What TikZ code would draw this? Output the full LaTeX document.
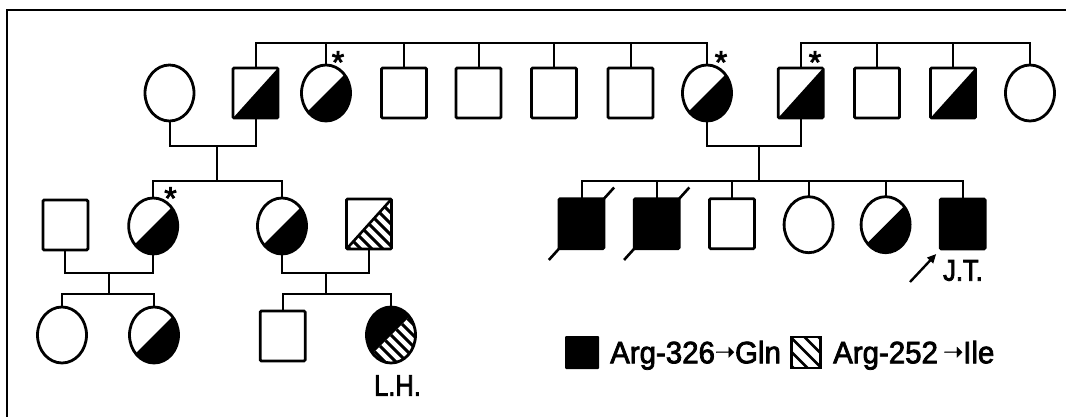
\documentclass[tikz,border=0pt]{standalone}
\usepackage{fontspec}
\setmainfont{Liberation Sans}[FakeBold=2.5]
\newfontfamily\labfont{Liberation Sans}[FakeStretch=0.85,FakeBold=2.5]
\newfontfamily\legfont{Liberation Sans}[FakeStretch=0.95,FakeBold=2.5]
\newfontfamily\arrfont{DejaVu Sans}[FakeBold=1.5]
\usetikzlibrary{shapes.geometric,calc,arrows.meta}
\newcommand{\legarrow}{\raisebox{3.5pt}{\arrfont\fontsize{24}{26}\selectfont ➝}}
\begin{document}
\begin{tikzpicture}[x=1pt,y=-1pt,
  sq/.style={rectangle, draw, line width=2.8pt, minimum width=45pt, minimum height=50pt, inner sep=0pt, outer sep=0pt, rounded corners=1.2pt},
  ci/.style={ellipse, draw, line width=2.8pt, minimum width=49pt, minimum height=56pt, inner sep=0pt, outer sep=0pt},
  full/.style={fill=black},
  halfsq/.style={path picture={\fill (path picture bounding box.south west) -- (path picture bounding box.north east) -- (path picture bounding box.south east) -- cycle;}},
  halfci/.style={path picture={\fill ($(path picture bounding box.center)+(-60,60)$) -- ($(path picture bounding box.center)+(60,-60)$) -- ($(path picture bounding box.center)+(60,60)$) -- cycle;}},
  hatchsq/.style={path picture={
    \begin{scope}
    \clip (path picture bounding box.south west) -- (path picture bounding box.north east) -- (path picture bounding box.south east) -- cycle;
    \foreach \k in {-66,-55,...,66} \draw[line width=3pt] ($(path picture bounding box.center)+(\k-40,-40)$) -- ($(path picture bounding box.center)+(\k+40,40)$);
    \end{scope}
    \draw[line width=2.6pt] (path picture bounding box.south west) -- (path picture bounding box.north east);}},
  hatchci/.style={path picture={
    \fill ($(path picture bounding box.center)+(-60,60)$) -- ($(path picture bounding box.center)+(60,-60)$) -- ($(path picture bounding box.center)+(-60,-60)$) -- cycle;
    \begin{scope}
    \clip ($(path picture bounding box.center)+(-60,60)$) -- ($(path picture bounding box.center)+(60,-60)$) -- ($(path picture bounding box.center)+(60,60)$) -- cycle;
    \foreach \k in {-66,-55,...,66} \draw[line width=3pt] ($(path picture bounding box.center)+(\k-40,-40)$) -- ($(path picture bounding box.center)+(\k+40,40)$);
    \end{scope}}},
  hatchleg/.style={path picture={
    \foreach \k in {-42,-28,...,42} \draw[line width=2.6pt] ($(path picture bounding box.center)+(\k-30,-30)$) -- ($(path picture bounding box.center)+(\k+30,30)$);}},
  conn/.style={line width=2pt},
  slash/.style={line width=2.6pt},
  lab/.style={font=\labfont\fontsize{30}{32}\selectfont, inner sep=0pt},
  legtext/.style={font=\legfont\fontsize{31}{33}\selectfont, inner sep=0pt, anchor=base west},
  ast/.style={font=\fontsize{32}{34}\selectfont, inner sep=0pt, anchor=north},
]
\useasboundingbox (0,0) rectangle (1066,417);
\draw[line width=2.4pt] (7.2,417) -- (7.2,10.2) -- (1066,10.2);

% generation I
\node[ci] (c1) at (169.5,93) {};
\node[sq,halfsq] (s2) at (255.5,93) {};
\node[ci,halfci] (c3) at (326,93) {};
\node[sq] (s4) at (404,93) {};
\node[sq] (s5) at (478.5,93) {};
\node[sq] (s6) at (554,93) {};
\node[sq] (s7) at (630.5,93) {};
\node[ci,halfci] (c8) at (707,93) {};
\node[sq,halfsq] (s9) at (800.7,93) {};
\node[sq] (s10) at (877,93) {};
\node[sq,halfsq] (s11) at (953,93) {};
\node[ci] (c12) at (1030,93) {};

% generation II
\node[sq] (A) at (65.4,225) {};
\node[ci,halfci] (B) at (153.2,226) {};
\node[ci,halfci] (C) at (282,226) {};
\node[sq,hatchsq] (D) at (369,224) {};
\node[sq,full] (R1) at (581.5,223.7) {};
\node[sq,full] (R2) at (656.7,223.7) {};
\node[sq] (R3) at (732,223.7) {};
\node[ci] (R4) at (808.6,224.7) {};
\node[ci,halfci] (R5) at (885.6,224.7) {};
\node[sq,full] (R6) at (962.7,224) {};

% generation III
\node[ci] (E) at (62,335) {};
\node[ci,halfci] (F) at (154,335) {};
\node[sq] (G) at (282.7,336) {};
\node[ci,hatchci] (H) at (391,335) {};

% asterisks
\node[ast] (a1) at (338,51) {*};
\node[ast] (a2) at (721,51) {*};
\node[ast] (a3) at (815,51) {*};
\node[ast] (a4) at (170.5,187) {*};

% connector levels
\coordinate (y1) at (0,42.7);
\coordinate (y2) at (0,181.5);
\coordinate (y3) at (0,294);
\coordinate (m1) at (217,146);
\coordinate (m2) at (758.5,146);
\coordinate (m3) at (108.5,273.3);
\coordinate (m4) at (326.4,273.3);

% sibships gen I
\draw[conn] (s2.north) -- (s2.north |- y1) -- (c8.north |- y1) -- (c8.north);
\foreach \n in {c3,s4,s5,s6,s7} \draw[conn] (\n.north) -- (\n.north |- y1);
\draw[conn] (s9.north) -- (s9.north |- y1) -- (c12.north |- y1) -- (c12.north);
\foreach \n in {s10,s11} \draw[conn] (\n.north) -- (\n.north |- y1);

% marriages gen I
\draw[conn] (c1.south) -- (c1.south |- m1) -- (s2.south |- m1) -- (s2.south);
\draw[conn] (m1) -- (m1 |- y2);
\draw[conn] (B.north) -- (B.north |- y2) -- (C.north |- y2) -- (C.north);
\draw[conn] (c8.south) -- (c8.south |- m2) -- (s9.south |- m2) -- (s9.south);
\draw[conn] (m2) -- (m2 |- y2);
\draw[conn] (R1.north) -- (R1.north |- y2) -- (R6.north |- y2) -- (R6.north);
\foreach \n in {R2,R3,R4,R5} \draw[conn] (\n.north) -- (\n.north |- y2);

% marriages gen II
\draw[conn] (A.south) -- (A.south |- m3) -- (B.south |- m3) -- (B.south);
\draw[conn] (m3) -- (m3 |- y3);
\draw[conn] (E.north) -- (E.north |- y3) -- (F.north |- y3) -- (F.north);
\draw[conn] (C.south) -- (C.south |- m4) -- (D.south |- m4) -- (D.south);
\draw[conn] (m4) -- (m4 |- y3);
\draw[conn] (G.north) -- (G.north |- y3) -- (H.north |- y3) -- (H.north);

% deceased
\draw[slash] ($(R1.center)!1.45!(R1.south west)$) -- ($(R1.center)!1.45!(R1.north east)$);
\draw[slash] ($(R2.center)!1.45!(R2.south west)$) -- ($(R2.center)!1.45!(R2.north east)$);

% proband
\coordinate (pa) at (910,282);
\draw[line width=2.4pt, -{Triangle[length=9pt,width=8pt]}] (pa) -- ($(R6.south west)+(-4,5)$);
\node[lab] (JT) at (963,270.5) {J.T.};
\node[lab] (LH) at (397.5,385.5) {L.H.};

% legend
\node[rectangle, fill=black, minimum width=34pt, minimum height=33pt, inner sep=0pt, rounded corners=1pt] (leg1) at (582,352.5) {};
\node[legtext] (t1) at (610,363.3) {Arg-326\legarrow Gln};
\node[rectangle, draw, line width=2.4pt, minimum width=29pt, minimum height=31pt, inner sep=0pt, outer sep=0pt, hatchleg] (leg2) at (806,352.5) {};
\node[legtext] (t2) at (833,363.3) {Arg-252\,\legarrow Ile};
\end{tikzpicture}
\end{document}
